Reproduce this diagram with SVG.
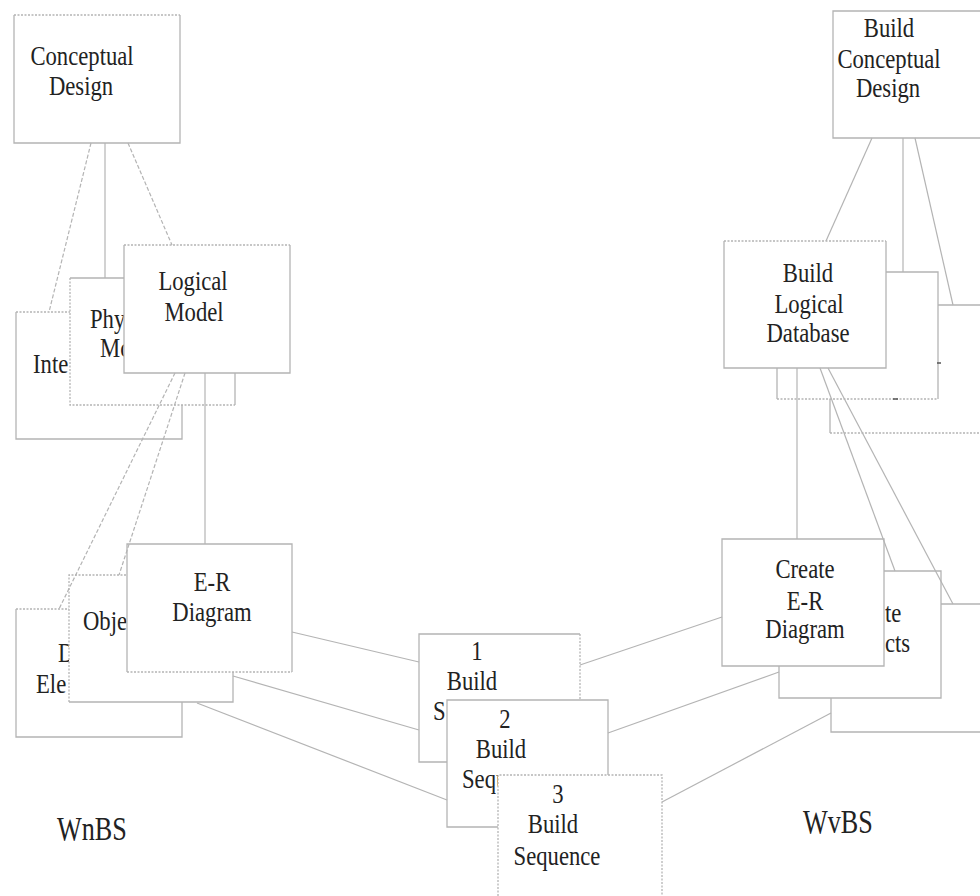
<svg xmlns="http://www.w3.org/2000/svg" width="980" height="896" viewBox="0 0 980 896">
  <style>
    .bg { fill: #ffffff; stroke: none; }
    .edge { fill: none; stroke: #b4b4b4; stroke-width: 1.3; }
    .dot { fill: none; stroke: #b4b4b4; stroke-width: 1.3; stroke-dasharray: 2 1.5; }
    .link { fill: none; stroke: #b4b4b4; stroke-width: 1.2; }
    .dlink { fill: none; stroke: #b4b4b4; stroke-width: 1.2; stroke-dasharray: 4 2; }
    .t { font-family: "Liberation Serif", "Times New Roman", serif; font-size: 27px; fill: #222222; }
    .c { text-anchor: middle; }
    .lbl { font-family: "Liberation Serif", "Times New Roman", serif; font-size: 34px; fill: #222222; }
  </style>

  <!-- ===== WnBS (left tree) ===== -->
  <g id="conceptual-design">
    <rect class="bg" x="14" y="15" width="166" height="128"/>
    <path class="edge" d="M14 15 V143 H180 V15"/>
    <path class="dot" d="M14 15 H180"/>
    <text class="t c" transform="translate(82,65) scale(0.84,1)">Conceptual</text>
    <text class="t c" transform="translate(81,95) scale(0.84,1)">Design</text>
  </g>

  <g id="integration-model">
    <rect class="bg" x="16" y="312" width="166" height="127"/>
    <path class="edge" d="M16 312 V439 H182 V312"/>
    <path class="dot" d="M16 312 H182"/>
    <text class="t" transform="translate(33,373) scale(0.84,1)">Inte</text>
  </g>

  <g id="physical-model">
    <rect class="bg" x="70" y="278" width="165" height="127"/>
    <path class="edge" d="M70 278 H235 V405"/>
    <path class="dot" d="M70 278 V405 H235"/>
    <text class="t" transform="translate(90,328) scale(0.84,1)">Phy</text>
    <text class="t" transform="translate(100,357) scale(0.84,1)">Mo</text>
  </g>

  <g id="logical-model">
    <rect class="bg" x="124" y="245" width="166" height="128"/>
    <path class="edge" d="M124 245 V373 H290 V245"/>
    <path class="dot" d="M124 245 H290"/>
    <text class="t c" transform="translate(193,290) scale(0.84,1)">Logical</text>
    <text class="t c" transform="translate(194,321) scale(0.84,1)">Model</text>
  </g>

  <g id="data-elements">
    <rect class="bg" x="16" y="609" width="166" height="128"/>
    <path class="edge" d="M16 609 V737 H182 V609"/>
    <path class="dot" d="M16 609 H182"/>
    <text class="t" transform="translate(58,662) scale(0.84,1)">D</text>
    <text class="t" transform="translate(36,693) scale(0.84,1)">Ele</text>
  </g>

  <g id="objects">
    <rect class="bg" x="69" y="575" width="164" height="127"/>
    <path class="edge" d="M69 702 H233 V575"/>
    <path class="dot" d="M69 702 V575 H233"/>
    <text class="t" transform="translate(83,630) scale(0.84,1)">Obje</text>
  </g>

  <g id="er-diagram">
    <rect class="bg" x="127" y="544" width="165" height="128"/>
    <path class="edge" d="M127 672 V544 H292 V672"/>
    <path class="dot" d="M127 672 H292"/>
    <text class="t c" transform="translate(212,591) scale(0.84,1)">E-R</text>
    <text class="t c" transform="translate(212,621) scale(0.84,1)">Diagram</text>
  </g>

  <!-- ===== build sequences (centre) ===== -->
  <g id="build-sequence-1">
    <rect class="bg" x="419" y="634" width="161" height="128"/>
    <path class="edge" d="M580 634 H419 V762 H580"/>
    <path class="dot" d="M580 634 V762"/>
    <text class="t c" transform="translate(477,660) scale(0.84,1)">1</text>
    <text class="t c" transform="translate(472,690) scale(0.84,1)">Build</text>
    <text class="t" transform="translate(433,720) scale(0.84,1)">S</text>
  </g>

  <g id="build-sequence-2">
    <rect class="bg" x="447" y="700" width="161" height="127"/>
    <path class="edge" d="M447 700 H608 V827 H447 Z"/>
    <text class="t c" transform="translate(505,728) scale(0.84,1)">2</text>
    <text class="t c" transform="translate(501,758) scale(0.84,1)">Build</text>
    <text class="t" transform="translate(462,788) scale(0.84,1)">Sequ</text>
  </g>

  <g id="build-sequence-3">
    <rect class="bg" x="498" y="775" width="164" height="128"/>
    <path class="dot" d="M498 903 V775 H662 V903"/>
    <text class="t c" transform="translate(558,803) scale(0.84,1)">3</text>
    <text class="t c" transform="translate(553,833) scale(0.84,1)">Build</text>
    <text class="t c" transform="translate(557,865) scale(0.84,1)">Sequence</text>
  </g>

  <!-- ===== WvBS (right tree) ===== -->
  <g id="build-conceptual-design">
    <rect class="bg" x="833" y="11" width="166" height="127"/>
    <path class="edge" d="M833 11 H999 V138 H833 Z"/>
    <text class="t c" transform="translate(889,37) scale(0.84,1)">Build</text>
    <text class="t c" transform="translate(889,68) scale(0.84,1)">Conceptual</text>
    <text class="t c" transform="translate(888,97) scale(0.84,1)">Design</text>
  </g>

  <g id="build-box-3">
    <rect class="bg" x="830" y="305" width="166" height="128"/>
    <path class="edge" d="M830 433 V305 H996"/>
    <path class="dot" d="M830 433 H996"/>
  </g>

  <g id="build-box-2">
    <rect class="bg" x="777" y="272" width="161" height="127"/>
    <path class="edge" d="M777 399 V272 H938 V399"/>
    <path class="dot" d="M777 399 H938"/>
  </g>

  <g id="build-logical-database">
    <rect class="bg" x="724" y="241" width="162" height="127"/>
    <path class="edge" d="M724 241 V368 H886 V241"/>
    <path class="dot" d="M724 241 H886"/>
    <text class="t c" transform="translate(808,282) scale(0.84,1)">Build</text>
    <text class="t c" transform="translate(809,313) scale(0.84,1)">Logical</text>
    <text class="t c" transform="translate(808,342) scale(0.84,1)">Database</text>
  </g>

  <g id="build-box-6">
    <rect class="bg" x="831" y="604" width="166" height="128"/>
    <path class="edge" d="M997 604 H831 V732 H997"/>
  </g>

  <g id="create-objects">
    <rect class="bg" x="779" y="571" width="162" height="127"/>
    <path class="edge" d="M779 571 H941 V698 H779 Z"/>
    <text class="t" transform="translate(885,622) scale(0.84,1)">te</text>
    <text class="t" transform="translate(885,652) scale(0.84,1)">cts</text>
  </g>

  <g id="create-er-diagram">
    <rect class="bg" x="722" y="539" width="162" height="127"/>
    <path class="edge" d="M722 539 H884 V666 H722 Z"/>
    <text class="t c" transform="translate(805,578) scale(0.84,1)">Create</text>
    <text class="t c" transform="translate(805,610) scale(0.84,1)">E-R</text>
    <text class="t c" transform="translate(805,638) scale(0.84,1)">Diagram</text>
  </g>

  <!-- ===== connectors ===== -->
  <g id="connectors">
    <!-- left tree -->
    <path class="dlink" d="M91 143 L49 312"/>
    <path class="link" d="M105 143 V278"/>
    <path class="dlink" d="M128 143 L172 245"/>
    <path class="dlink" d="M175 373 L59 609"/>
    <path class="dlink" d="M185 373 L119 575"/>
    <path class="link" d="M205 373 V544"/>
    <path class="link" d="M292 632 L419 662"/>
    <path class="link" d="M233 676 L419 730"/>
    <path class="link" d="M197 703 L447 800"/>
    <!-- right tree -->
    <path class="link" d="M872 138 L826 241"/>
    <path class="link" d="M903 138 V272"/>
    <path class="link" d="M915 138 L953 305"/>
    <path class="link" d="M797 368 V539"/>
    <path class="link" d="M820 368 L895 571"/>
    <path class="link" d="M828 368 L953 604"/>
    <path class="link" d="M580 665 L722 617"/>
    <path class="link" d="M608 733 L779 672"/>
    <path class="link" d="M662 802 L831 713"/>
    <!-- stray marks on the hidden boxes -->
    <path d="M937 363 H941" stroke="#555" stroke-width="1.5"/>
    <path d="M893 399 H898" stroke="#555" stroke-width="1.5"/>
  </g>

  <!-- structure labels -->
  <text class="lbl" transform="translate(57,840) scale(0.77,1)">WnBS</text>
  <text class="lbl" transform="translate(803,833) scale(0.77,1)">WvBS</text>
</svg>
